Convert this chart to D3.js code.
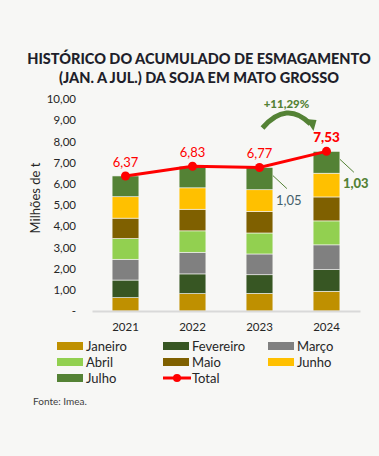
<!DOCTYPE html>
<html>
<head>
<meta charset="utf-8">
<script src="https://cdn.jsdelivr.net/npm/d3@7"></script>
<style>
  body { margin: 0; background: #f7f7f5; }
  svg { display: block; font-family: Lato, "Open Sans", sans-serif; }
</style>
</head>
<body>
<svg id="chart"></svg>
<script>
// data
let years = ['2021', '2022', '2023', '2024']
let months = ['Janeiro', 'Fevereiro', 'Março', 'Abril', 'Maio', 'Junho', 'Julho']
let janeiro   = [0.63, 0.82, 0.83, 0.93]
let fevereiro = [0.83, 0.93, 0.88, 1.02]
let marco     = [0.98, 1.02, 0.98, 1.17]
let abril     = [0.98, 1.01, 0.99, 1.13]
let maio      = [0.96, 1.02, 1.02, 1.13]
let junho     = [1.01, 1.01, 1.02, 1.12]
let julho     = [0.98, 1.02, 1.05, 1.03]
let totals    = [6.37, 6.83, 6.77, 7.53]
let yTicks    = [0, 1, 2, 3, 4, 5, 6, 7, 8, 9, 10]
let variation = '+11,29%'

let colors = ['#bf9000', '#375623', '#808080', '#92d050', '#7f6000', '#ffc000', '#548235']

let width = 379
let height = 456
let plotLeft = 92
let plotRight = 360
let plotTop = 99
let plotBottom = 311

let svg = d3.select('#chart').attr('width', width).attr('height', height)

let fmt = v => v.toFixed(2).replace('.', ',')

let table = years.map((y, i) => ({
  year: y,
  Janeiro: janeiro[i], Fevereiro: fevereiro[i], 'Março': marco[i], Abril: abril[i],
  Maio: maio[i], Junho: junho[i], Julho: julho[i], total: totals[i]
}))

let xScale = d3.scaleBand().domain(years).range([plotLeft, plotRight]).paddingInner(0.6).paddingOuter(0.3)
let yScale = d3.scaleLinear().domain([0, 10]).range([plotBottom, plotTop])

// title
svg.append('text')
  .attr('x', 199).attr('y', 64)
  .attr('text-anchor', 'middle')
  .style('font-size', '14.5px').style('font-weight', 900).attr('fill', '#1f1f2b')
  .text('HISTÓRICO DO ACUMULADO DE ESMAGAMENTO')
svg.append('text')
  .attr('x', 199).attr('y', 83)
  .attr('text-anchor', 'middle')
  .style('font-size', '14.5px').style('font-weight', 900).attr('fill', '#1f1f2b')
  .text('(JAN. A JUL.) DA SOJA EM MATO GROSSO')

// y axis (labels only)
let yAxis = d3.axisLeft(yScale).tickValues(yTicks).tickSize(0).tickPadding(0)
  .tickFormat(d => d === 0 ? '-' : fmt(d))
let gy = svg.append('g').attr('transform', 'translate(76,0)').call(yAxis)
gy.select('.domain').remove()
gy.selectAll('text').style('font-size', '11.5px').style('font-family', 'Lato, sans-serif').attr('fill', '#262626')

svg.append('text')
  .attr('transform', 'translate(40,198) rotate(-90)')
  .attr('text-anchor', 'middle')
  .style('font-size', '13px').attr('fill', '#262626')
  .text('Milhões de t')

// stacked bars
let stack = d3.stack().keys(months)
let series = stack(table)

svg.append('g').selectAll('g')
  .data(series)
  .enter()
  .append('g')
  .attr('fill', (d, i) => colors[i])
  .selectAll('rect')
  .data(d => d)
  .enter()
  .append('rect')
  .attr('x', d => xScale(d.data.year))
  .attr('y', d => yScale(d[1]))
  .attr('width', xScale.bandwidth())
  .attr('height', d => yScale(d[0]) - yScale(d[1]))
  .attr('stroke', '#f7f7f5').attr('stroke-width', 0.6)

// baseline
let xAxis = d3.axisBottom(xScale).tickSize(0).tickPadding(12)
let gx = svg.append('g').attr('transform', 'translate(0,' + plotBottom + ')').call(xAxis)
gx.select('.domain').attr('stroke', '#d9d9d9').attr('stroke-width', 2)
gx.selectAll('text').style('font-size', '11.5px').style('font-family', 'Lato, sans-serif').attr('fill', '#262626')

// total line
let cx = d => xScale(d.year) + xScale.bandwidth() / 2
let line = d3.line().x(cx).y(d => yScale(d.total))
svg.append('path').datum(table)
  .attr('d', line).attr('fill', 'none').attr('stroke', '#ff0000').attr('stroke-width', 3)
svg.selectAll('.dot').data(table).enter().append('circle')
  .attr('class', 'dot')
  .attr('cx', cx).attr('cy', d => yScale(d.total)).attr('r', 4.5).attr('fill', '#ff0000')
svg.selectAll('.tlabel').data(table).enter().append('text')
  .attr('class', 'tlabel')
  .attr('x', cx).attr('y', d => yScale(d.total) - 9)
  .attr('text-anchor', 'middle')
  .style('font-size', (d, i) => i === 3 ? '13.5px' : '13px')
  .style('font-weight', (d, i) => i === 3 ? 900 : 400)
  .attr('fill', '#ff0000')
  .text(d => fmt(d.total))

// july leader labels for 2023 and 2024
let julyTop = series[6]
;[2, 3].forEach(i => {
  let seg = julyTop[i]
  let x0 = xScale(years[i]) + xScale.bandwidth()
  let y0 = yScale((seg[0] + seg[1]) / 2) - 3
  svg.append('line')
    .attr('x1', x0).attr('y1', y0).attr('x2', x0 + 14).attr('y2', y0 + 13)
    .attr('stroke', '#548235').attr('stroke-width', 1)
  svg.append('text')
    .attr('x', x0 + 3).attr('y', y0 + 29)
    .style('font-size', '13px')
    .style('font-weight', i === 3 ? 900 : 400)
    .attr('fill', i === 3 ? '#548235' : '#44606a')
    .text(fmt(julho[i]))
})

// variation arrow between 2023 and 2024
let ax0 = cx(table[2]) + 3
let ax1 = cx(table[3]) - 16
svg.append('path')
  .attr('d', 'M' + ax0 + ',128 Q' + ((ax0 + ax1) / 2) + ',100 ' + ax1 + ',124')
  .attr('fill', 'none').attr('stroke', '#548235').attr('stroke-width', 5)
svg.append('path')
  .attr('d', 'M' + (ax1 - 5) + ',119 L' + (ax1 + 6) + ',120 L' + (ax1 + 3) + ',131 Z')
  .attr('fill', '#548235')
svg.append('text')
  .attr('x', (ax0 + ax1) / 2).attr('y', 108)
  .attr('text-anchor', 'middle')
  .style('font-size', '11.5px').style('font-weight', 900).attr('fill', '#548235')
  .text(variation)

// legend
let legendItems = months.map((m, i) => ({ name: m, color: colors[i] })).concat([{ name: 'Total', color: '#ff0000', line: true }])
let colX = [57, 163, 268]
let rowY = [346, 362, 378]
let lg = svg.selectAll('.leg').data(legendItems).enter().append('g')
  .attr('class', 'leg')
  .attr('transform', (d, i) => 'translate(' + colX[i % 3] + ',' + rowY[Math.floor(i / 3)] + ')')
lg.filter(d => !d.line).append('rect')
  .attr('x', 0).attr('y', -4).attr('width', 26).attr('height', 8).attr('fill', d => d.color)
let tl = lg.filter(d => d.line)
tl.append('line').attr('x1', 0).attr('x2', 28).attr('y1', 0).attr('y2', 0)
  .attr('stroke', '#ff0000').attr('stroke-width', 3)
tl.append('circle').attr('cx', 14).attr('cy', 0).attr('r', 4).attr('fill', '#ff0000')
lg.append('text')
  .attr('x', 29).attr('y', 0).attr('dy', '0.35em')
  .style('font-size', '13px').attr('fill', '#262626')
  .text(d => d.name)

svg.append('text')
  .attr('x', 33).attr('y', 405)
  .style('font-size', '10px').attr('fill', '#404040')
  .text('Fonte: Imea.')
</script>
</body>
</html>
